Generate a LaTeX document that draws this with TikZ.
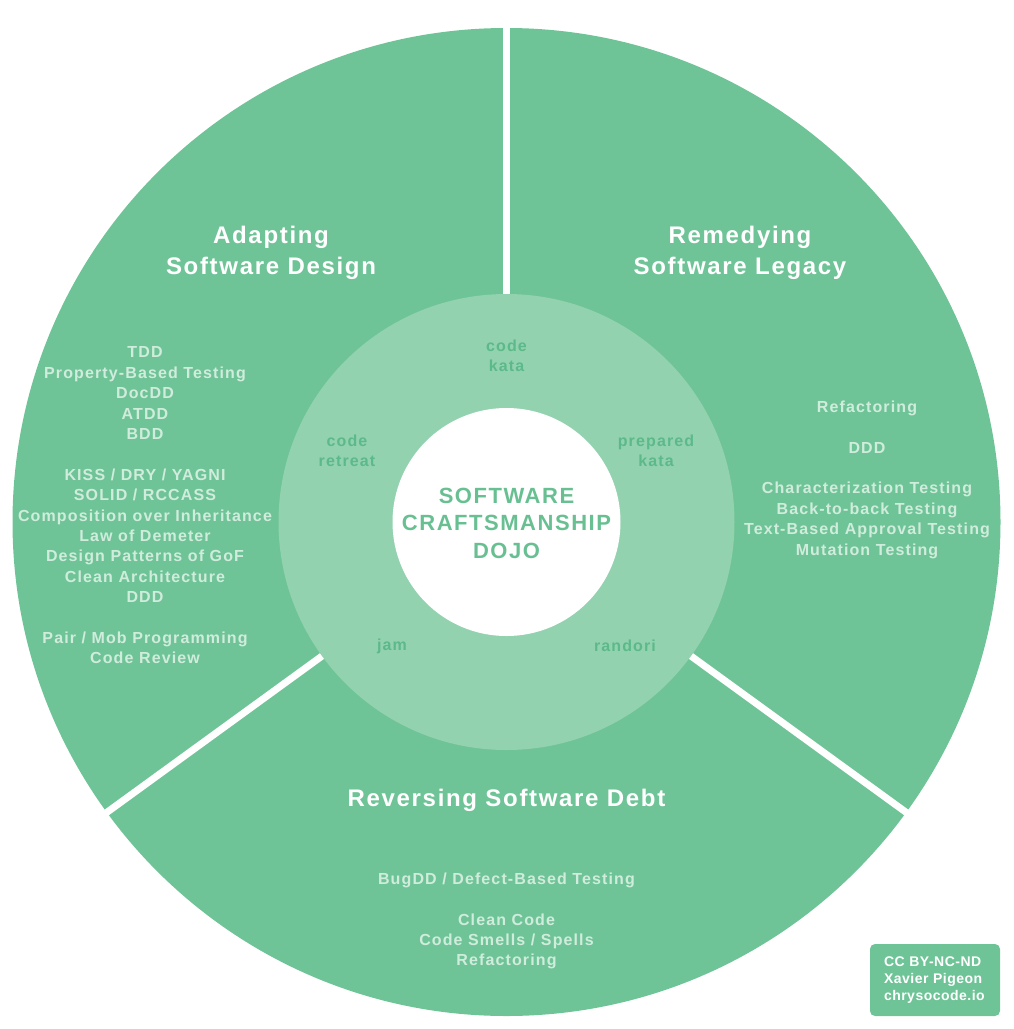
\documentclass[tikz,border=0pt]{standalone}
\usepackage{fontspec}
\setmainfont{Liberation Sans}[LetterSpace=7]
\definecolor{outergreen}{RGB}{111,196,151}
\definecolor{ringgreen}{RGB}{147,210,175}
\definecolor{itemtext}{RGB}{208,236,220}
\definecolor{innertext}{RGB}{92,185,138}
\definecolor{centertext}{RGB}{104,192,146}
\tikzset{
  title/.style={text=white, font=\bfseries\fontsize{24}{31}\selectfont, align=center, inner sep=0},
  items/.style={text=itemtext, font=\bfseries\fontsize{16}{20.4}\selectfont, align=center, inner sep=0},
  kind/.style={text=innertext, font=\bfseries\fontsize{16}{20.4}\selectfont, align=center, inner sep=0},
  dojo/.style={text=centertext, font=\bfseries\fontsize{22}{27.5}\selectfont, align=center, inner sep=0},
  separator/.style={white, line width=7pt, line cap=butt},
  licence/.style={fill=outergreen, rounded corners=5pt, text=white, font=\bfseries\fontsize{14}{17}\selectfont\addfontfeature{LetterSpace=3.5}, align=left, inner sep=0, minimum width=130pt, minimum height=72pt, text width=102pt},
}
\begin{document}
\begin{tikzpicture}[x=1pt,y=-1pt]
\useasboundingbox (0,0) rectangle (1014,1029);
\coordinate (C) at (506.5,522);
\path (C) ++(-90:500) coordinate (S1);
\path (C) ++(144:500) coordinate (S2);
\path (C) ++(36:500) coordinate (S3);
% outer disc
\fill[outergreen] (C) circle[radius=494];
% separators
\draw[separator] (C) -- (S1);
\draw[separator] (C) -- (S2);
\draw[separator] (C) -- (S3);
% ring and centre
\fill[ringgreen] (C) circle[radius=228];
\fill[white] (C) circle[radius=114];
% titles
\node[title] (tdesign) at (271,252.5) {Adapting\\Software Design};
\node[title] (tlegacy) at (740,252.5) {Remedying\\Software Legacy};
\node[title] (tdebt) at (506.5,800) {Reversing Software Debt};
% lists
\node[items] (ldesign) at (145,505.5) {TDD\\Property-Based Testing\\DocDD\\ATDD\\BDD\\[20.4pt]KISS / DRY / YAGNI\\SOLID / RCCASS\\Composition over Inheritance\\Law of Demeter\\Design Patterns of GoF\\Clean Architecture\\DDD\\[20.4pt]Pair / Mob Programming\\Code Review};
\node[items] (llegacy) at (867,479.5) {Refactoring\\[20.4pt]DDD\\[20.4pt]Characterization Testing\\Back-to-back Testing\\Text-Based Approval Testing\\Mutation Testing};
\node[items] (ldebt) at (506.5,921) {BugDD / Defect-Based Testing\\[20.4pt]Clean Code\\Code Smells / Spells\\Refactoring};
% practice kinds
\node[kind] (kata) at (506.5,356) {code\\kata};
\node[kind] (retreat) at (347,451) {code\\retreat};
\node[kind] (prepared) at (656,451) {prepared\\kata};
\node[kind] (jam) at (392,646) {jam};
\node[kind] (randori) at (625,646) {randori};
% centre
\node[dojo] (dojo) at (506.5,523) {SOFTWARE\\CRAFTSMANSHIP\\DOJO};
% licence
\node[licence] (lic) at (935,980) {CC BY-NC-ND\\Xavier Pigeon\\chrysocode.io};
\end{tikzpicture}
\end{document}
